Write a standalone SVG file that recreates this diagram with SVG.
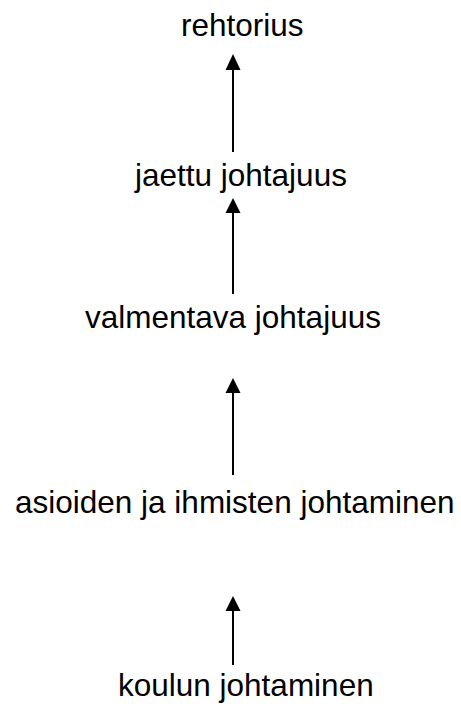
<svg xmlns="http://www.w3.org/2000/svg" width="461" height="704" viewBox="0 0 461 704">
<style>
.t{font-family:"Liberation Sans",Arial,sans-serif;font-size:31.5px;fill:#000}
.c{stroke:#000;stroke-width:2;fill:none}
.h{fill:#000}
</style>
<rect width="461" height="704" fill="#fff"/>
<g id="connectors">
<line class="c" x1="233" y1="152" x2="233" y2="69"/>
<polygon class="h" points="233,54 225.5,70 240.5,70"/>
<line class="c" x1="233" y1="294" x2="233" y2="212"/>
<polygon class="h" points="233,198 225.5,213 240.5,213"/>
<line class="c" x1="233" y1="475" x2="233" y2="392"/>
<polygon class="h" points="233,378 225.5,393 240.5,393"/>
<line class="c" x1="233" y1="665" x2="233" y2="610"/>
<polygon class="h" points="233,596 225.5,611 240.5,611"/>
</g>
<g id="n1"><text class="t" x="181" y="36">rehtorius</text></g>
<g id="n2"><text class="t" x="135" y="186">jaettu johtajuus</text></g>
<g id="n3"><text class="t" x="85" y="328">valmentava johtajuus</text></g>
<g id="n4"><text class="t" x="15" y="513">asioiden ja ihmisten johtaminen</text></g>
<g id="n5"><text class="t" x="118" y="696">koulun johtaminen</text></g>
</svg>
